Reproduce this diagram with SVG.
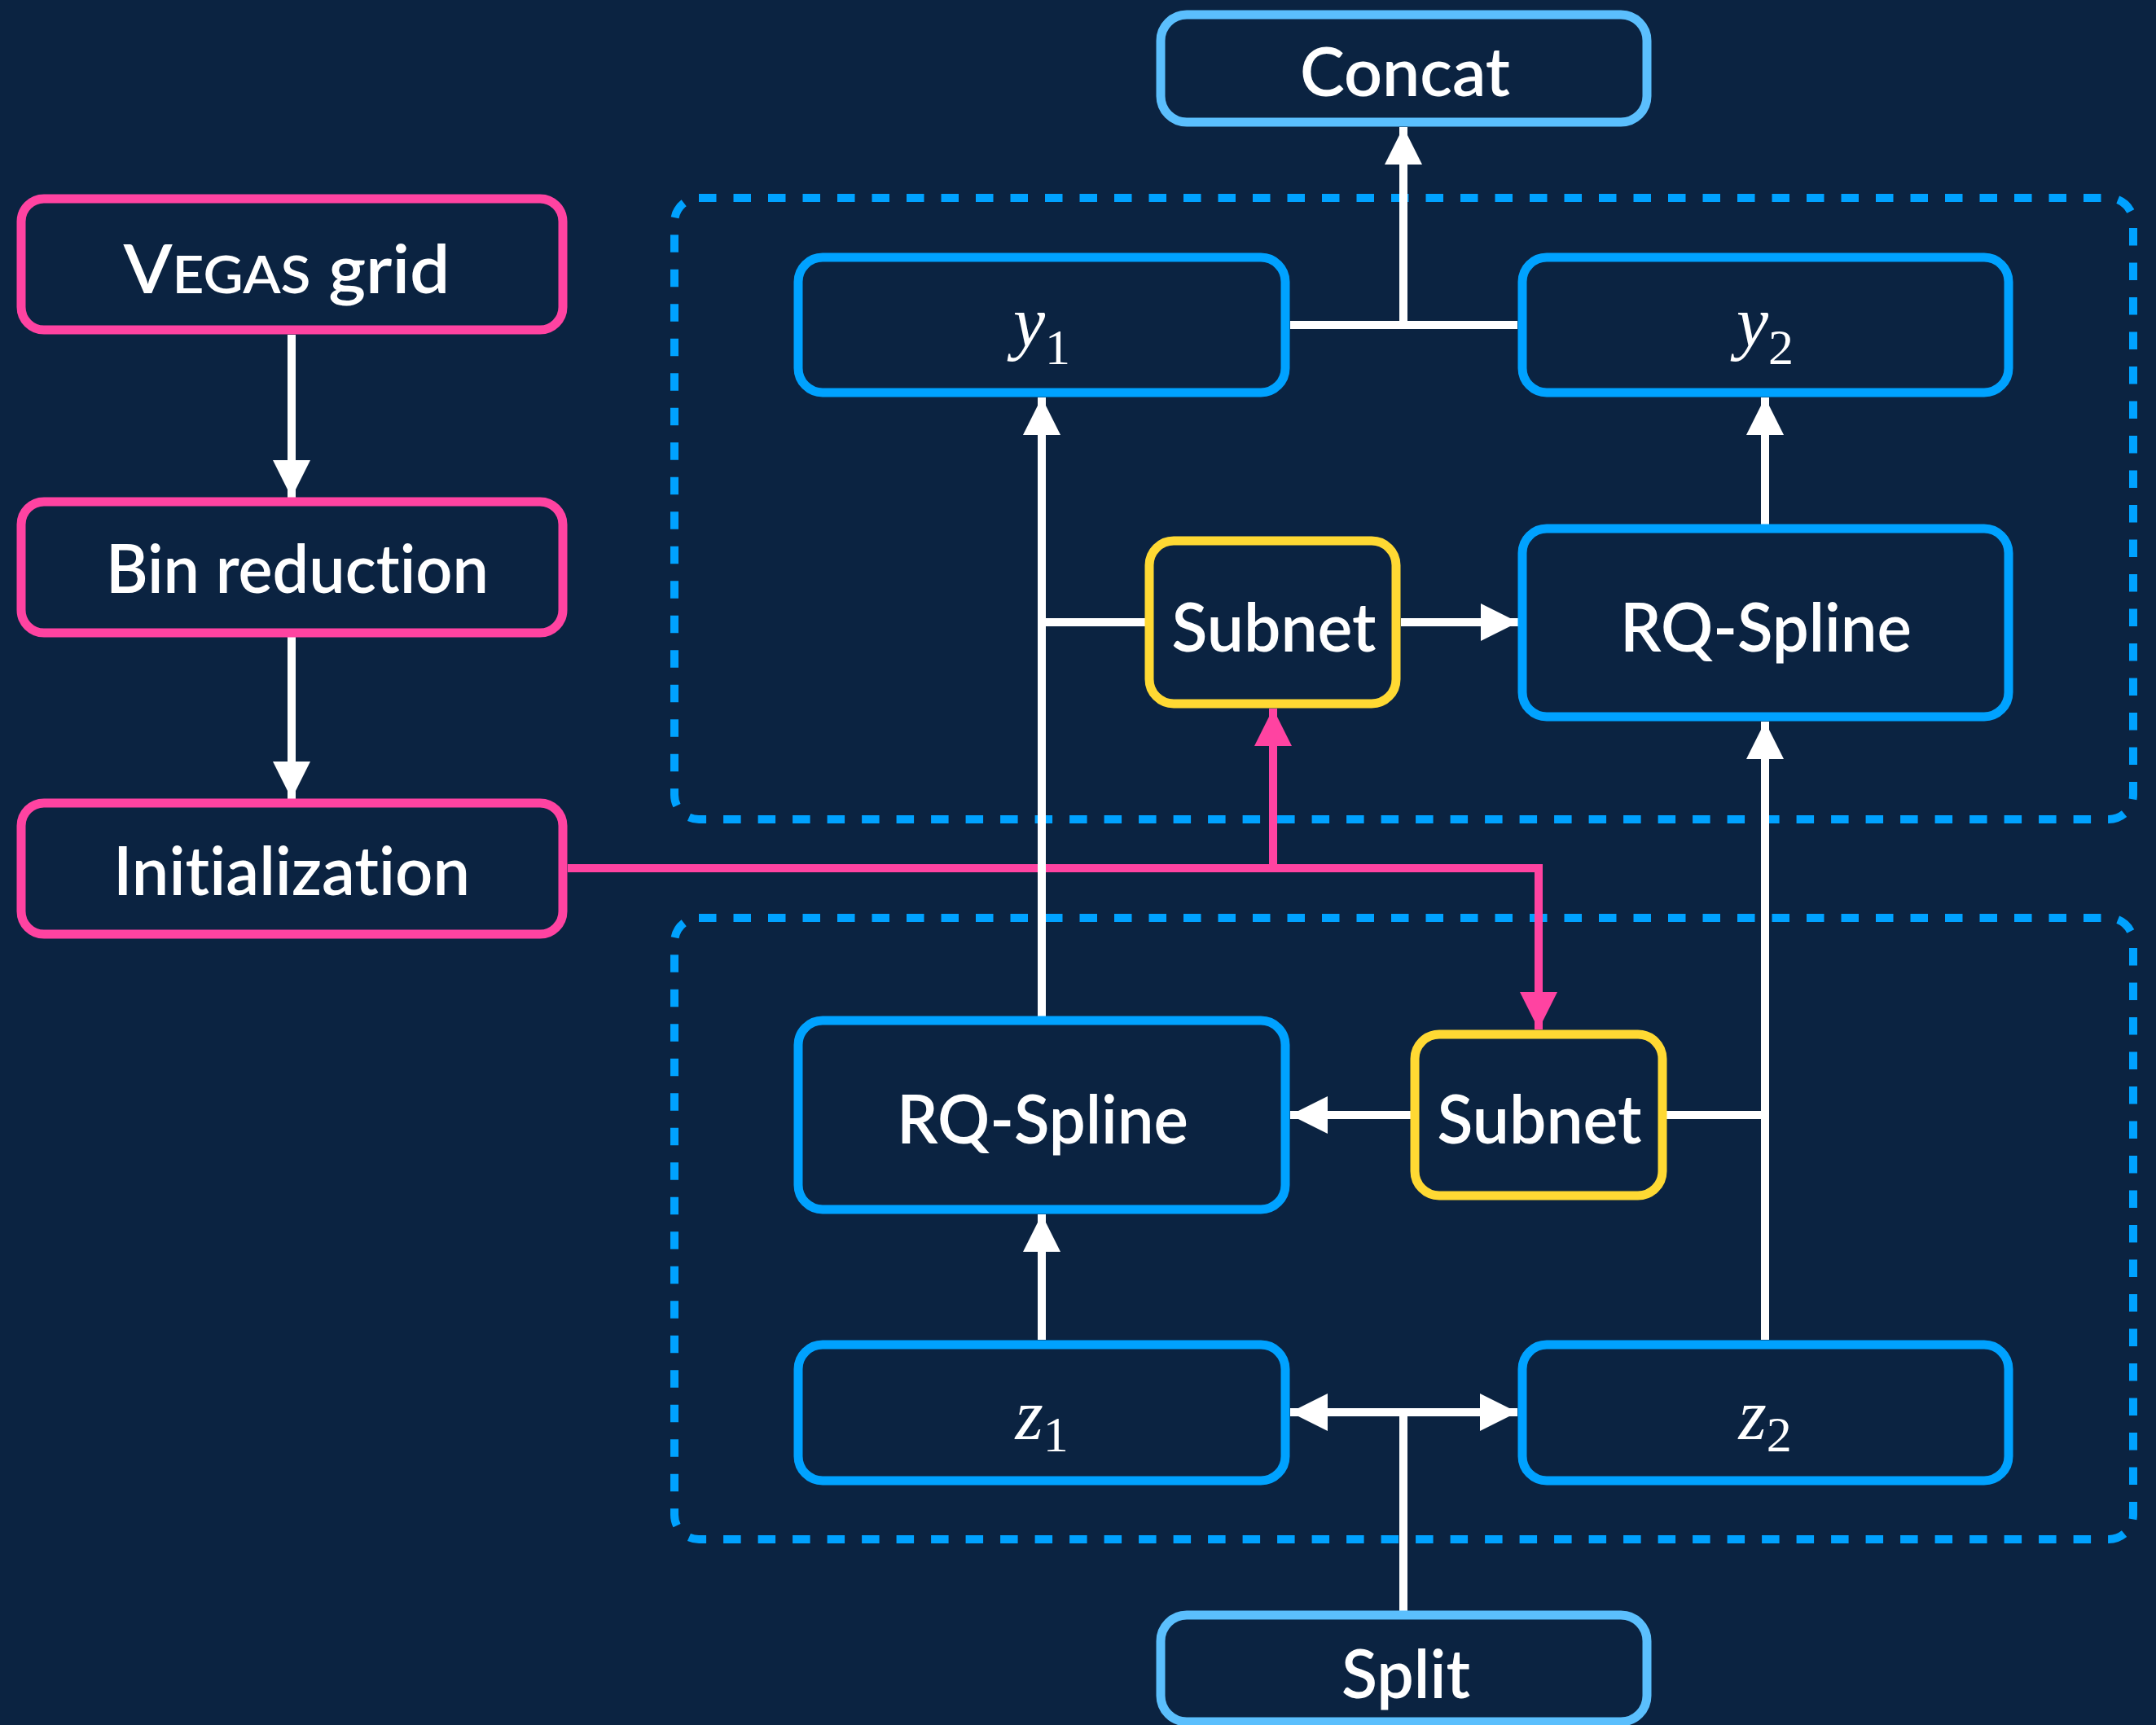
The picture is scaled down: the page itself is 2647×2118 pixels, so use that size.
<svg xmlns="http://www.w3.org/2000/svg" width="2647" height="2118" viewBox="0 0 2647 2118">
<style>
.bg{fill:#0B2341}
.pk{fill:#0B2341;stroke:#FF43A1;stroke-width:11}
.bl{fill:#0B2341;stroke:#00A2FF;stroke-width:11}
.lb{fill:#0B2341;stroke:#5BBFFD;stroke-width:11}
.ye{fill:#0B2341;stroke:#FFD933;stroke-width:11}
.grp{fill:none;stroke:#00A2FF;stroke-width:10;stroke-dasharray:21.5 21}
.w{fill:none;stroke:#FFFFFF;stroke-width:10}
.p{fill:none;stroke:#FF43A1;stroke-width:10}
.t{font-family:Lato,"Open Sans","DejaVu Sans",sans-serif;font-size:83px;font-weight:600;fill:#FFFFFF;text-anchor:middle;font-variant-ligatures:none;font-feature-settings:"liga" 0}
.m{font-family:"Liberation Serif","Times New Roman",serif;font-size:88px;fill:#FFFFFF;text-anchor:middle}
</style>
<defs>
<marker id="aw" markerUnits="userSpaceOnUse" markerWidth="46" markerHeight="46" viewBox="0 0 44 44" refX="44" refY="22" orient="auto-start-reverse"><path d="M0,0 L44,22 L0,44 z" fill="#FFFFFF"/></marker>
<marker id="ap" markerUnits="userSpaceOnUse" markerWidth="46" markerHeight="46" viewBox="0 0 44 44" refX="44" refY="22" orient="auto-start-reverse"><path d="M0,0 L44,22 L0,44 z" fill="#FF43A1"/></marker>
</defs>
<rect class="bg" x="0" y="0" width="2647" height="2118"/>
<g id="groups">
<rect class="grp" x="828" y="243" width="1791" height="763" rx="30"/>
<rect class="grp" x="828" y="1127" width="1791" height="763" rx="30"/>
</g>
<g id="connectors">
<path class="p" d="M697,1066 H1889 V1264" marker-end="url(#ap)"/>
<path class="p" d="M1563,1066 V870" marker-end="url(#ap)"/>
<path class="w" d="M358,411 V611" marker-end="url(#aw)"/>
<path class="w" d="M358,781 V981" marker-end="url(#aw)"/>
<path class="w" d="M1584,399 H1863"/>
<path class="w" d="M1723,399 V156" marker-end="url(#aw)"/>
<path class="w" d="M2167,644 V488" marker-end="url(#aw)"/>
<path class="w" d="M2167,1645 V886" marker-end="url(#aw)"/>
<path class="w" d="M2046,1369 H2167"/>
<path class="w" d="M1732,1369 H1584" marker-end="url(#aw)"/>
<path class="w" d="M1279,1248 V488" marker-end="url(#aw)"/>
<path class="w" d="M1279,764 H1406"/>
<path class="w" d="M1720,764 H1864" marker-end="url(#aw)"/>
<path class="w" d="M1279,1645 V1491" marker-end="url(#aw)"/>
<path class="w" d="M1723,1978 V1734"/>
<path class="w" d="M1584,1734 H1863" marker-start="url(#aw)" marker-end="url(#aw)"/>
</g>
<g id="vegas">
<rect class="pk" x="26" y="244" width="665" height="161" rx="28"/>
<text class="t" x="352" y="360" textLength="401" lengthAdjust="spacingAndGlyphs">V<tspan font-size="64">EGAS</tspan> grid</text>
</g>
<g id="bin">
<rect class="pk" x="26" y="616" width="665" height="161" rx="28"/>
<text class="t" x="365" y="728" textLength="470" lengthAdjust="spacingAndGlyphs">Bin reduction</text>
</g>
<g id="init">
<rect class="pk" x="26" y="986" width="665" height="161" rx="28"/>
<text class="t" x="358" y="1099" textLength="438" lengthAdjust="spacingAndGlyphs">Initialization</text>
</g>
<g id="concat">
<rect class="lb" x="1425" y="18" width="597" height="132" rx="32"/>
<text class="t" x="1725" y="118" textLength="258" lengthAdjust="spacingAndGlyphs">Concat</text>
</g>
<g id="split">
<rect class="lb" x="1425" y="1983" width="597" height="131" rx="32"/>
<text class="t" x="1726" y="2085" textLength="158" lengthAdjust="spacingAndGlyphs">Split</text>
</g>
<g id="y1">
<rect class="bl" x="980" y="316" width="598" height="166" rx="30"/>
<text class="m" x="1279" y="425"><tspan font-style="italic">y</tspan><tspan font-size="62" dy="22">1</tspan></text>
</g>
<g id="y2">
<rect class="bl" x="1869" y="316" width="597" height="166" rx="30"/>
<text class="m" x="2167" y="425"><tspan font-style="italic">y</tspan><tspan font-size="62" dy="22">2</tspan></text>
</g>
<g id="subnet-top">
<rect class="ye" x="1411" y="664" width="303" height="200" rx="30"/>
<text class="t" x="1564" y="800" textLength="251" lengthAdjust="spacingAndGlyphs">Subnet</text>
</g>
<g id="rqspline-top">
<rect class="bl" x="1869" y="649" width="597" height="231" rx="30"/>
<text class="t" x="2168" y="800" textLength="358" lengthAdjust="spacingAndGlyphs">RQ-Spline</text>
</g>
<g id="rqspline-bottom">
<rect class="bl" x="980" y="1253" width="598" height="232" rx="30"/>
<text class="t" x="1280" y="1404" textLength="358" lengthAdjust="spacingAndGlyphs">RQ-Spline</text>
</g>
<g id="subnet-bottom">
<rect class="ye" x="1737" y="1270" width="304" height="198" rx="30"/>
<text class="t" x="1890" y="1404" textLength="251" lengthAdjust="spacingAndGlyphs">Subnet</text>
</g>
<g id="z1">
<rect class="bl" x="980" y="1651" width="598" height="167" rx="30"/>
<text class="m" x="1279" y="1767"><tspan font-style="italic">z</tspan><tspan font-size="62" dy="15">1</tspan></text>
</g>
<g id="z2">
<rect class="bl" x="1869" y="1651" width="597" height="167" rx="30"/>
<text class="m" x="2167" y="1767"><tspan font-style="italic">z</tspan><tspan font-size="62" dy="15">2</tspan></text>
</g>
</svg>
